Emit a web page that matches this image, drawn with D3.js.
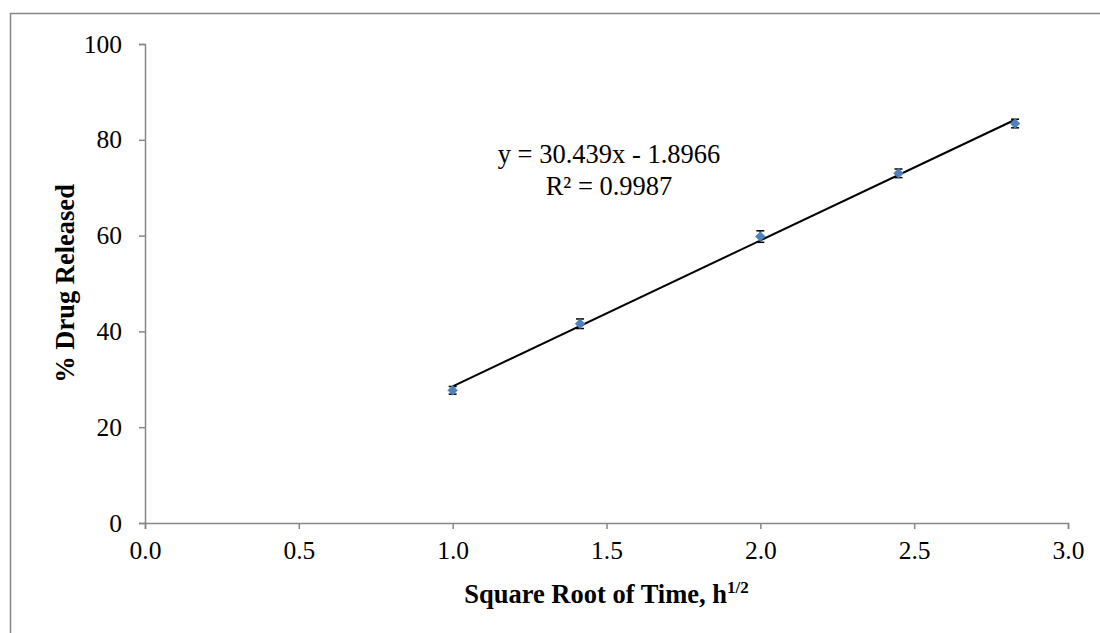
<!DOCTYPE html>
<html>
<head>
<meta charset="utf-8">
<script src="https://cdn.jsdelivr.net/npm/d3@7"></script>
<style>
  html, body { margin: 0; padding: 0; background: #fff; }
  svg { display: block; font-family: "Liberation Serif", "Times New Roman", serif; }
</style>
</head>
<body>
<svg id="chart" width="1100" height="633"></svg>
<script>
// Release data: square root of time (h^1/2) vs % drug released
const sqrtTime = [1.0, 1.414, 2.0, 2.449, 2.828];
const released = [27.7, 41.6, 59.8, 73.0, 83.4];
const errBars  = [0.8, 1.0, 1.2, 0.9, 0.9];
const xTicks = [0, 0.5, 1.0, 1.5, 2.0, 2.5, 3.0];
const yTicks = [0, 20, 40, 60, 80, 100];
const slope = 30.439, intercept = -1.8966, rSquared = "0.9987";

const svg = d3.select("#chart");
const W = 1100, H = 633;
const m = { left: 145, right: 1068, top: 44, bottom: 523 };

const x = d3.scaleLinear().domain([0, 3]).range([m.left, m.right]);
const y = d3.scaleLinear().domain([0, 100]).range([m.bottom, m.top]);

// outer frame (top and left edges visible)
svg.append("path")
  .attr("d", `M10.5,${H} L10.5,13.5 L${W},13.5`)
  .attr("fill", "none").attr("stroke", "#868686").attr("stroke-width", 1.5);

const axisColor = "#868686";

// y axis
const yAxis = svg.append("g")
  .attr("transform", `translate(${m.left},0)`)
  .call(d3.axisLeft(y).tickValues(yTicks).tickSize(6).tickPadding(17).tickFormat(d3.format("d")));
// x axis
const xAxis = svg.append("g")
  .attr("transform", `translate(0,${m.bottom})`)
  .call(d3.axisBottom(x).tickValues(xTicks).tickSize(6).tickPadding(10).tickFormat(d3.format(".1f")));

[xAxis, yAxis].forEach(g => {
  g.select(".domain").attr("stroke", axisColor).attr("stroke-width", 1.5);
  g.selectAll(".tick line").attr("stroke", axisColor).attr("stroke-width", 1.5);
  g.selectAll(".tick text")
    .attr("fill", "#000")
    .style("font-family", "'Liberation Serif', serif")
    .style("font-size", "25.5px");
});
xAxis.selectAll(".tick text").attr("dy", "0.8em");

// axis titles
svg.append("text")
  .attr("transform", `translate(74,${(m.top + m.bottom) / 2}) rotate(-90)`)
  .attr("text-anchor", "middle")
  .style("font-size", "26.5px").style("font-weight", "bold")
  .text("% Drug Released");

const xt = svg.append("text")
  .attr("x", (m.left + m.right) / 2).attr("y", 603)
  .attr("text-anchor", "middle")
  .style("font-size", "26.5px").style("font-weight", "bold");
xt.append("tspan").text("Square Root of Time, h");
xt.append("tspan").attr("dy", -10).style("font-size", "17px").text("1/2");

// linear trendline over the data range
const xMin = d3.min(sqrtTime), xMax = d3.max(sqrtTime);
svg.append("line")
  .attr("x1", x(xMin)).attr("y1", y(slope * xMin + intercept))
  .attr("x2", x(xMax)).attr("y2", y(slope * xMax + intercept))
  .attr("stroke", "#000").attr("stroke-width", 2);

// error bars
const pts = sqrtTime.map((v, i) => ({ x: v, y: released[i], e: errBars[i] }));
const eb = svg.append("g").attr("stroke", "#000").attr("stroke-width", 1.5);
pts.forEach(d => {
  eb.append("line").attr("x1", x(d.x)).attr("x2", x(d.x))
    .attr("y1", y(d.y - d.e)).attr("y2", y(d.y + d.e));
  [d.y - d.e, d.y + d.e].forEach(v => {
    eb.append("line").attr("x1", x(d.x) - 4).attr("x2", x(d.x) + 4)
      .attr("y1", y(v)).attr("y2", y(v));
  });
});

// diamond markers
svg.append("g").selectAll("path").data(pts).join("path")
  .attr("transform", d => `translate(${x(d.x)},${y(d.y)}) rotate(45)`)
  .attr("d", d3.symbol().type(d3.symbolSquare).size(48)())
  .attr("fill", "#4F81BD").attr("stroke", "#4F81BD").attr("stroke-width", 0.5);

// regression equation
const eq = svg.append("g").attr("text-anchor", "middle")
  .style("font-size", "26.5px");
eq.append("text").attr("x", 609).attr("y", 163)
  .text(`y = ${slope}x - ${Math.abs(intercept)}`);
eq.append("text").attr("x", 609).attr("y", 195)
  .text(`R² = ${rSquared}`);
</script>
</body>
</html>
